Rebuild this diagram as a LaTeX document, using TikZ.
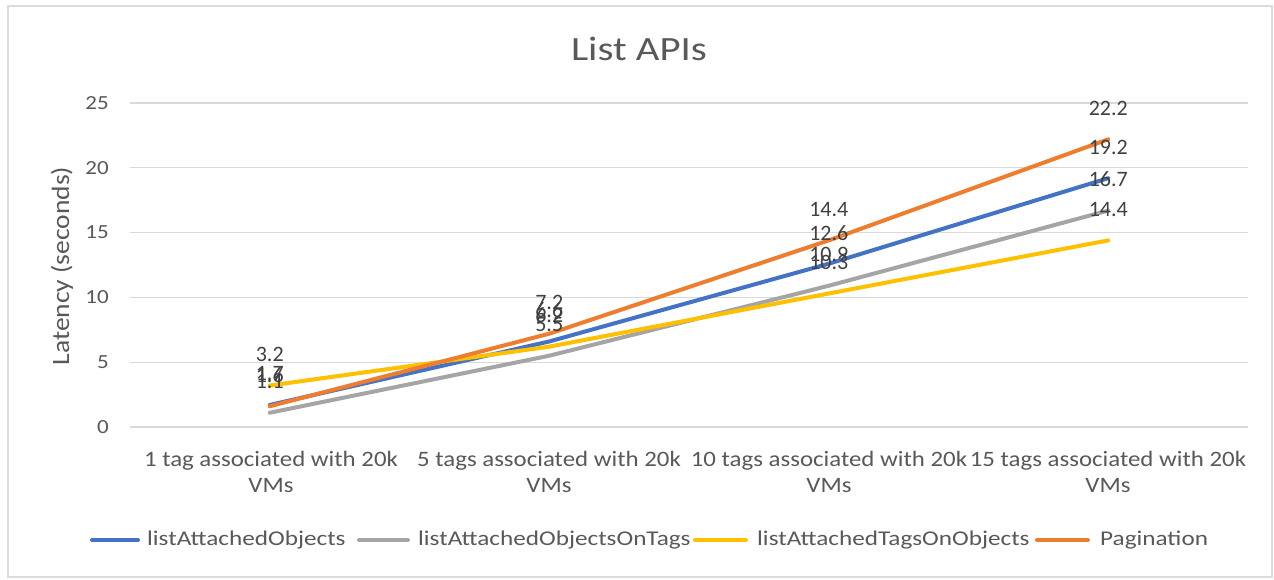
\documentclass[tikz,border=0pt]{standalone}
\usepackage{fontspec}
\setmainfont{Carlito}
\newfontfamily\ftitle[FakeStretch=1.2]{Carlito}
\newfontfamily\fcat[FakeStretch=1.13]{Carlito}
\newfontfamily\fleg[FakeStretch=1.2]{Carlito}
\newfontfamily\ftick[FakeStretch=1.15]{Carlito}
\newfontfamily\fytitle[FakeStretch=1.1]{Carlito}
\definecolor{cblue}{HTML}{4472C4}
\definecolor{cgray}{HTML}{A5A5A5}
\definecolor{cyellow}{HTML}{FFC000}
\definecolor{corange}{HTML}{ED7D31}
\definecolor{txt}{HTML}{595959}
\definecolor{dtxt}{HTML}{404040}
\definecolor{gridc}{HTML}{D9D9D9}
\definecolor{framec}{HTML}{DCDCDC}
\tikzset{
  gridline/.style={draw=gridc, line width=1.3pt},
  series/.style={line width=4pt, line cap=round, line join=round},
  ticklbl/.style={anchor=east, text=txt, inner sep=0pt, font=\ftick\fontsize{20}{23}\selectfont},
  catlbl/.style={align=center, text=txt, inner sep=0pt, font=\fcat\fontsize{22}{26}\selectfont},
  datalbl/.style={text=dtxt, inner sep=0pt, anchor=center, yshift=31pt, font=\fontsize{22}{25}\selectfont},
  leglbl/.style={anchor=west, text=txt, inner sep=0pt, font=\fleg\fontsize{21}{24}\selectfont},
}
\begin{document}
\begin{tikzpicture}[x=1pt,y=-1pt]
\useasboundingbox (0,0) rectangle (1274,579);
\fill[white] (0,0) rectangle (1274,579);
\draw[draw=framec, line width=2.5pt] (8,6) rectangle (1272,577);

% title
\node[text=txt, font=\ftitle\fontsize{34}{38}\selectfont, inner sep=0pt] (title) at (639,49) {List APIs};

% grid and ticks
\foreach \v in {0,5,10,15,20,25}{
  \draw[gridline] (130,{427-\v*12.96}) -- (1248,{427-\v*12.96});
  \node[ticklbl] (tick\v) at (109,{427-\v*12.96}) {\v};
}

% y axis title
\node[rotate=90, text=txt, inner sep=0pt, font=\fytitle\fontsize{25}{28}\selectfont] (ytitle) at (62,266) {Latency (seconds)};

% categories
\node[catlbl] (c1) at (271,472) {1 tag associated with 20k\\VMs};
\node[catlbl] (c2) at (549,472) {5 tags associated with 20k\\VMs};
\node[catlbl] (c3) at (829,472) {10 tags associated with 20k\\VMs};
\node[catlbl] (c4) at (1108,472) {15 tags associated with 20k\\VMs};

% data points
\def\xa{269.75}\def\xb{549.25}\def\xc{828.75}\def\xd{1108.25}
\coordinate (b1) at (\xa,{427-1.7*12.96});
\coordinate (b2) at (\xb,{427-6.6*12.96});
\coordinate (b3) at (\xc,{427-12.6*12.96});
\coordinate (b4) at (\xd,{427-19.2*12.96});
\coordinate (g1) at (\xa,{427-1.1*12.96});
\coordinate (g2) at (\xb,{427-5.5*12.96});
\coordinate (g3) at (\xc,{427-10.9*12.96});
\coordinate (g4) at (\xd,{427-16.7*12.96});
\coordinate (y1) at (\xa,{427-3.2*12.96});
\coordinate (y2) at (\xb,{427-6.2*12.96});
\coordinate (y3) at (\xc,{427-10.3*12.96});
\coordinate (y4) at (\xd,{427-14.4*12.96});
\coordinate (o1) at (\xa,{427-1.6*12.96});
\coordinate (o2) at (\xb,{427-7.2*12.96});
\coordinate (o3) at (\xc,{427-14.4*12.96});
\coordinate (o4) at (\xd,{427-22.2*12.96});

\draw[series, cblue] (b1) -- (b2) -- (b3) -- (b4);
\draw[series, cgray] (g1) -- (g2) -- (g3) -- (g4);
\draw[series, cyellow] (y1) -- (y2) -- (y3) -- (y4);
\draw[series, corange] (o1) -- (o2) -- (o3) -- (o4);

% data labels
\foreach \s/\a/\b/\c/\d in {b/1.7/6.6/12.6/19.2, g/1.1/5.5/10.9/16.7, y/3.2/6.2/10.3/14.4, o/1.6/7.2/14.4/22.2}{
  \node[datalbl] (l\s1) at (\s1) {\a};
  \node[datalbl] (l\s2) at (\s2) {\b};
  \node[datalbl] (l\s3) at (\s3) {\c};
  \node[datalbl] (l\s4) at (\s4) {\d};
}

% legend
\coordinate (lb0) at (92,540); \coordinate (lb1) at (138,540);
\coordinate (lg0) at (359,540); \coordinate (lg1) at (408,540);
\coordinate (ly0) at (695,540); \coordinate (ly1) at (746,540);
\coordinate (lo0) at (1037,540); \coordinate (lo1) at (1088,540);
\draw[series, cblue] (lb0) -- (lb1);
\draw[series, cgray] (lg0) -- (lg1);
\draw[series, cyellow] (ly0) -- (ly1);
\draw[series, corange] (lo0) -- (lo1);
\node[leglbl] (tb) at (147,540) {listAttachedObjects};
\node[leglbl] (tg) at (418,540) {listAttachedObjectsOnTags};
\node[leglbl] (ty) at (757,540) {listAttachedTagsOnObjects};
\node[leglbl] (to) at (1100,540) {Pagination};
\end{tikzpicture}
\end{document}
